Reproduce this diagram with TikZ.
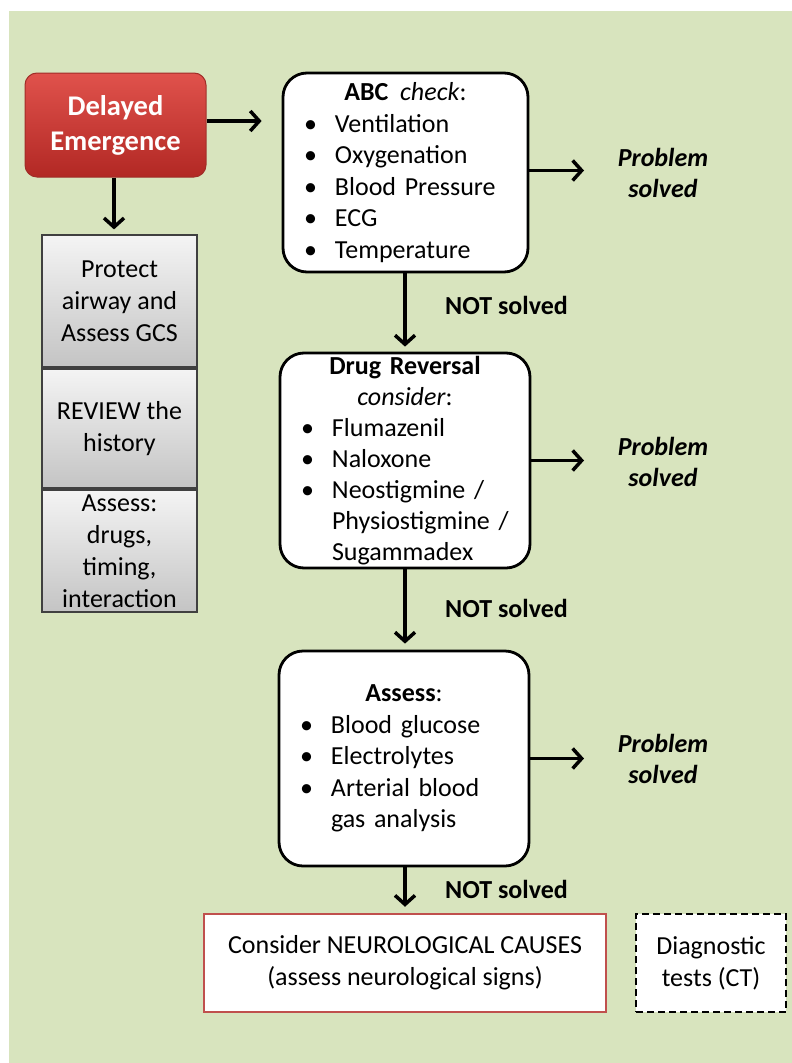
\documentclass[tikz,border=0pt]{standalone}
\usepackage{fontspec}
\setmainfont{Carlito}
\usetikzlibrary{arrows.meta,calc}
\definecolor{bggreen}{RGB}{216,228,190}
\definecolor{redtop}{RGB}{224,82,76}
\definecolor{redbot}{RGB}{178,40,36}
\definecolor{redline}{RGB}{160,45,40}
\definecolor{graytop}{RGB}{244,244,244}
\definecolor{graybot}{RGB}{196,196,196}
\definecolor{grayline}{RGB}{64,64,64}
\definecolor{neurored}{RGB}{192,80,77}
\newlength\bxw
\newcommand\bl[1]{\makebox[\bxw][l]{\hspace*{21pt}\makebox[31pt][l]{\textbullet}#1}}
\newcommand\cl[1]{\makebox[\bxw][l]{\hspace*{52pt}#1}}
\tikzset{
  basefont/.style={font=\fontsize{26}{31.5}\selectfont},
  roundbox/.style={basefont, draw=black, line width=2.8pt, fill=white, rounded corners=24pt,
    inner sep=0pt, align=center},
  redbox/.style={font=\fontsize{28.5}{35}\selectfont\bfseries, text=white, draw=redline, line width=1pt,
    top color=redtop, bottom color=redbot, rounded corners=12pt, minimum width=181pt,
    minimum height=104pt, inner sep=0pt, align=center},
  graybox/.style={font=\fontsize{26}{32}\selectfont, draw=grayline, line width=1.2pt,
    top color=graytop, bottom color=graybot, minimum width=155pt, inner sep=0pt, align=center},
  neurobox/.style={font=\fontsize{26}{32}\selectfont, draw=neurored, line width=2.5pt, fill=white,
    inner sep=0pt, align=center},
  diagbox/.style={font=\fontsize{26}{32}\selectfont, draw=black, line width=2.5pt,
    dash pattern=on 7pt off 4pt, fill=white, inner sep=0pt, align=center},
  lab/.style={font=\fontsize{26}{31}\selectfont\bfseries, align=center, inner sep=2pt},
  arr/.style={line width=3.5pt, -{Straight Barb[length=9pt,width=20pt]}}
}
\begin{document}
\begin{tikzpicture}[x=1pt,y=-1pt]
\useasboundingbox (0,0) rectangle (792,1063);
\fill[white] (0,0) rectangle (792,1063);
\fill[bggreen] (9,11) rectangle (792,1063);

% left column
\node[redbox] (delay) at (115.5,125) {Delayed\\Emergence};
\node[graybox, minimum height=132pt] (g1) at (119.5,301) {Protect\\airway and\\Assess GCS};
\node[graybox, minimum height=119pt] (g2) at (119.5,428.5) {REVIEW the\\history};
\node[graybox, minimum height=122pt] (g3) at (119.5,551) {Assess:\\drugs,\\timing,\\interaction};

% main column
\node[roundbox, text width=245pt, minimum height=199pt] (abc) at (405.5,172.5)
  {\setlength\bxw{245pt}\textbf{ABC}\hspace{0.45em}\textit{check}:\\\bl{Ventilation}\\\bl{Oxygenation}\\\bl{Blood Pressure}\\\bl{ECG}\\\bl{Temperature}};
\node[roundbox, text width=250pt, minimum height=215pt, font=\fontsize{26}{31}\selectfont] (drug) at (405,460.5)
  {\setlength\bxw{250pt}\textbf{Drug Reversal}\\\textit{consider}:\\\bl{Flumazenil}\\\bl{Naloxone}\\\bl{Neostigmine /}\\\cl{Physiostigmine /}\\\cl{Sugammadex}};
\node[roundbox, text width=250pt, minimum height=215pt] (assess) at (404,758.5)
  {\setlength\bxw{250pt}\textbf{Assess}:\\\bl{Blood glucose}\\\bl{Electrolytes}\\\bl{Arterial blood}\\\cl{gas analysis}};

\node[neurobox, minimum width=402pt, minimum height=98pt] (neuro) at (405,963)
  {Consider NEUROLOGICAL CAUSES\\(assess neurological signs)};
\node[diagbox, minimum width=150pt, minimum height=98pt] (diag) at (711,963)
  {Diagnostic\\tests (CT)};

% labels
\node[lab] (ns1) at (506.5,305) {NOT solved};
\node[lab] (ns2) at (506.5,608) {NOT solved};
\node[lab] (ns3) at (506.5,889) {NOT solved};
\node[lab] (ps1) at (663,172.5) {\itshape Problem\\\itshape solved};
\node[lab] (ps2) at (663,461.5) {\itshape Problem\\\itshape solved};
\node[lab] (ps3) at (663,758.5) {\itshape Problem\\\itshape solved};
\coordinate (tipx) at (584,0);

% connectors
\draw[arr, shorten >=20pt] ([yshift=4pt]delay.east) -- ([yshift=4pt]delay.east -| abc.west);
\draw[arr, shorten >=5pt] ([xshift=-1.5pt]delay.south) -- ([xshift=-1.5pt]delay.south |- g1.north);
\draw[arr, shorten >=5pt] ([xshift=-0.5pt]abc.south) -- ([xshift=-0.5pt]abc.south |- drug.north);
\draw[arr, shorten >=6pt] (drug.south) -- (drug.south |- assess.north);
\draw[arr, shorten >=6pt] ([xshift=1pt]assess.south) -- ([xshift=1pt]assess.south |- neuro.north);
\draw[arr] ([yshift=2pt]abc.east) -- ([yshift=2pt]abc.east -| tipx);
\draw[arr] (drug.east) -- (drug.east -| tipx);
\draw[arr] (assess.east) -- (assess.east -| tipx);
\end{tikzpicture}
\end{document}
